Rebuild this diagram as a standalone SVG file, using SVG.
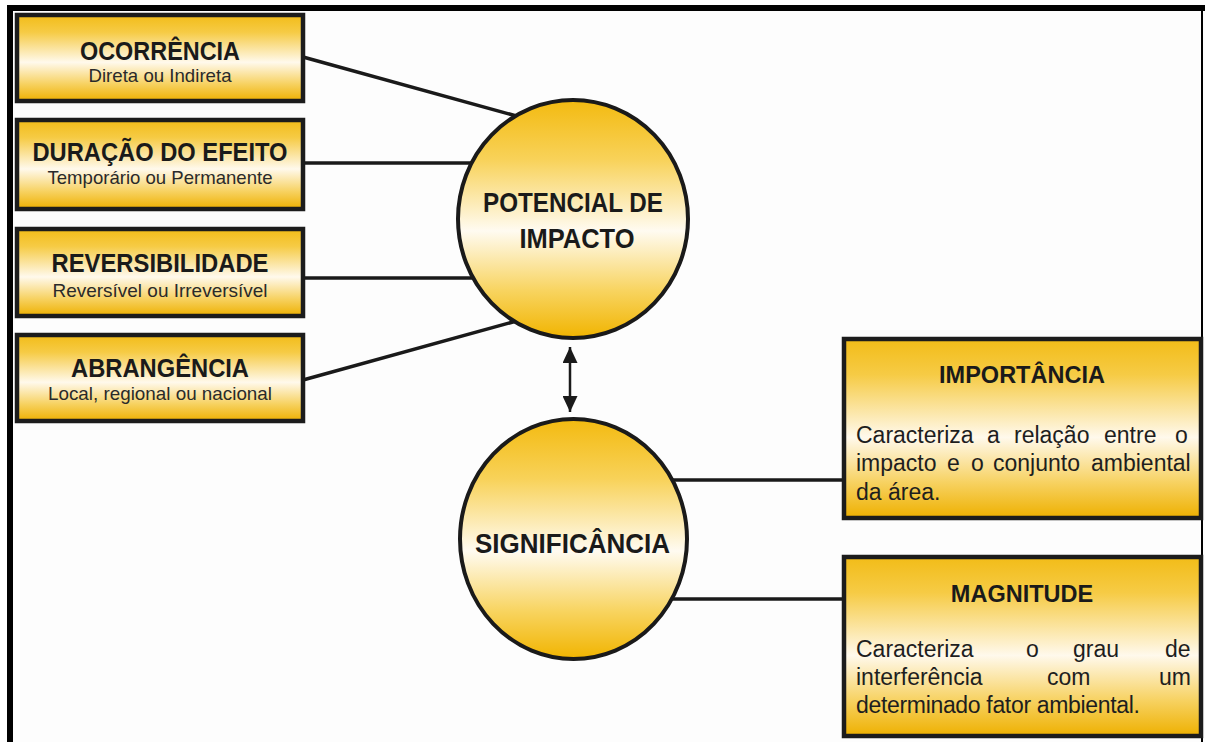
<svg xmlns="http://www.w3.org/2000/svg" width="1205" height="742" viewBox="0 0 1205 742">
<defs>
<linearGradient id="boxGrad" x1="0" y1="0" x2="0" y2="1">
<stop offset="0" stop-color="#F2BC18"/>
<stop offset="0.2" stop-color="#F6CB45"/>
<stop offset="0.55" stop-color="#FFF9EC"/>
<stop offset="0.8" stop-color="#F7D262"/>
<stop offset="1" stop-color="#EEB000"/>
</linearGradient>
<linearGradient id="circGrad" x1="0" y1="0" x2="0" y2="1">
<stop offset="0" stop-color="#F3BA10"/>
<stop offset="0.25" stop-color="#F8D259"/>
<stop offset="0.55" stop-color="#FFFBF1"/>
<stop offset="0.8" stop-color="#F8D460"/>
<stop offset="1" stop-color="#F1B400"/>
</linearGradient>
<marker id="head" viewBox="0 0 16 15" markerWidth="16" markerHeight="15" refX="16" refY="7.5" markerUnits="userSpaceOnUse" orient="auto-start-reverse">
<path d="M0,0 L16,7.5 L0,15 z" fill="#1a1a1a"/>
</marker>
</defs>
<style>
.box{fill:url(#boxGrad);stroke:#1c1c1c;stroke-width:4.5}
.circ{fill:url(#circGrad);stroke:#1a1a1a;stroke-width:4}
.conn{stroke:#1a1a1a;stroke-width:3.5;fill:none}
.t{font-family:"Liberation Sans",Arial,sans-serif;font-weight:bold;font-size:25px;fill:#1a1a1a;text-anchor:middle}
.s{font-family:"Liberation Sans",Arial,sans-serif;font-size:19px;fill:#2a2a2a;text-anchor:middle}
.c{font-family:"Liberation Sans",Arial,sans-serif;font-weight:bold;font-size:28px;fill:#1a1a1a;text-anchor:middle}
.h{font-family:"Liberation Sans",Arial,sans-serif;font-weight:bold;font-size:23.5px;fill:#1a1a1a;text-anchor:middle}
.b{font-family:"Liberation Sans",Arial,sans-serif;font-size:23px;fill:#1e1e1e}
</style>
<rect x="0" y="0" width="1205" height="742" fill="#FDFDFD"/>
<g id="frame">
<rect x="7" y="5" width="6" height="737" fill="#000"/>
<rect x="7" y="5" width="1198" height="6" fill="#000"/>
<rect x="1201" y="5" width="2" height="737" fill="#000"/>
</g>
<g id="connectors">
<line class="conn" x1="303" y1="57" x2="520" y2="117"/>
<line class="conn" x1="303" y1="163" x2="482" y2="163"/>
<line class="conn" x1="303" y1="278" x2="482" y2="278"/>
<line class="conn" x1="303" y1="380" x2="520" y2="320"/>
<line class="conn" x1="664" y1="480" x2="844" y2="480"/>
<line class="conn" x1="664" y1="599" x2="844" y2="599"/>
<line stroke="#1a1a1a" stroke-width="2.5" x1="570" y1="347" x2="570" y2="412" marker-start="url(#head)" marker-end="url(#head)"/>
</g>
<g id="ocorrencia">
<rect class="box" x="17" y="15" width="286" height="86"/>
<text class="t" x="160" y="60" textLength="160" lengthAdjust="spacingAndGlyphs">OCORRÊNCIA</text>
<text class="s" x="160" y="82" textLength="143" lengthAdjust="spacingAndGlyphs">Direta ou Indireta</text>
</g>
<g id="duracao">
<rect class="box" x="17" y="120" width="286" height="89"/>
<text class="t" x="160" y="161" textLength="255" lengthAdjust="spacingAndGlyphs">DURAÇÃO DO EFEITO</text>
<text class="s" x="160" y="184" textLength="225" lengthAdjust="spacingAndGlyphs">Temporário ou Permanente</text>
</g>
<g id="reversibilidade">
<rect class="box" x="17" y="229" width="286" height="87"/>
<text class="t" x="160" y="272" textLength="217" lengthAdjust="spacingAndGlyphs">REVERSIBILIDADE</text>
<text class="s" x="160" y="297" textLength="215" lengthAdjust="spacingAndGlyphs">Reversível ou Irreversível</text>
</g>
<g id="abrangencia">
<rect class="box" x="17" y="335" width="286" height="86"/>
<text class="t" x="160" y="377" textLength="178" lengthAdjust="spacingAndGlyphs">ABRANGÊNCIA</text>
<text class="s" x="160" y="400" textLength="224" lengthAdjust="spacingAndGlyphs">Local, regional ou nacional</text>
</g>
<g id="potencial">
<ellipse class="circ" cx="573" cy="219" rx="115" ry="119"/>
<text class="c" x="573" y="212" textLength="180" lengthAdjust="spacingAndGlyphs">POTENCIAL DE</text>
<text class="c" x="577" y="248" textLength="115" lengthAdjust="spacingAndGlyphs">IMPACTO</text>
</g>
<g id="significancia">
<ellipse class="circ" cx="573.5" cy="539" rx="113.5" ry="120"/>
<text class="c" x="572.5" y="553" textLength="195" lengthAdjust="spacingAndGlyphs">SIGNIFICÂNCIA</text>
</g>
<g id="importancia">
<rect class="box" x="844" y="339" width="357" height="179"/>
<text class="h" x="1022" y="383">IMPORTÂNCIA</text>
<text class="b" y="443"><tspan x="856">Caracteriza</tspan><tspan x="987">a</tspan><tspan x="1014">relação</tspan><tspan x="1104">entre</tspan><tspan x="1175">o</tspan></text>
<text class="b" y="471"><tspan x="856">impacto</tspan><tspan x="947">e</tspan><tspan x="971">o</tspan><tspan x="993">conjunto</tspan><tspan x="1091">ambiental</tspan></text>
<text class="b" x="856" y="500">da área.</text>
</g>
<g id="magnitude">
<rect class="box" x="844" y="557" width="357" height="179"/>
<text class="h" x="1022" y="602">MAGNITUDE</text>
<text class="b" y="657"><tspan x="856">Caracteriza</tspan><tspan x="1026">o</tspan><tspan x="1073">grau</tspan><tspan x="1165">de</tspan></text>
<text class="b" y="685"><tspan x="856">interferência</tspan><tspan x="1047">com</tspan><tspan x="1159">um</tspan></text>
<text class="b" x="856" y="713" textLength="284" lengthAdjust="spacing">determinado fator ambiental.</text>
</g>
</svg>
